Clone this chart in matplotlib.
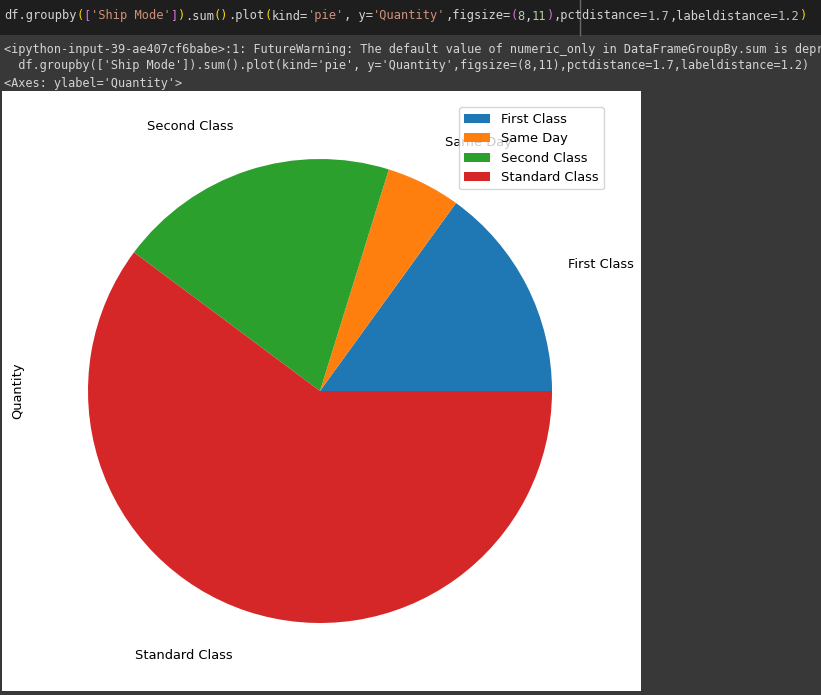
import matplotlib
matplotlib.use("Agg")
import matplotlib.pyplot as plt
from matplotlib.patches import Rectangle

W, H = 821, 695

# data
ship_modes = ['First Class', 'Same Day', 'Second Class', 'Standard Class']
quantity = [5693, 1960, 7423, 22797]
colors = ['#1f77b4', '#ff7f0e', '#2ca02c', '#d62728']

# notebook text
code_parts = [
    ("df.groupby", '#d4d4d4'), ("(", '#ffd700'), ("[", '#da70d6'),
    ("'Ship Mode'", '#ce9178'), ("]", '#da70d6'), (")", '#ffd700'),
    (".sum", '#d4d4d4'), ("()", '#ffd700'), (".plot", '#d4d4d4'),
    ("(", '#ffd700'), ("kind=", '#d4d4d4'), ("'pie'", '#ce9178'),
    (", y=", '#d4d4d4'), ("'Quantity'", '#ce9178'), (",figsize=", '#d4d4d4'),
    ("(", '#da70d6'), ("8", '#b5cea8'), (",", '#d4d4d4'), ("11", '#b5cea8'),
    (")", '#da70d6'), (",pctdistance=", '#d4d4d4'), ("1.7", '#b5cea8'),
    (",labeldistance=", '#d4d4d4'), ("1.2", '#b5cea8'), (")", '#ffd700'),
]
out_lines = [
    "<ipython-input-39-ae407cf6babe>:1: FutureWarning: The default value of numeric_only in DataFrameGroupBy.sum is deprecated.",
    "  df.groupby(['Ship Mode']).sum().plot(kind='pie', y='Quantity',figsize=(8,11),pctdistance=1.7,labeldistance=1.2)",
    "<Axes: ylabel='Quantity'>",
]
out_y = [49, 66, 83]

fig = plt.figure(figsize=(W / 100, H / 100), dpi=100, facecolor='#383838')

def px(x, y):
    return x / W, 1 - y / H

# code cell background + cursor
fig.add_artist(Rectangle((0, 1 - 35 / H), 1, 35 / H, transform=fig.transFigure,
                         facecolor='#1e1e1e', edgecolor='none', zorder=-2))
fig.add_artist(plt.Line2D([580 / W, 580 / W], [1, 1 - 35 / H], transform=fig.transFigure,
                          color='#6a6a6a', lw=1))

mono = 'DejaVu Sans Mono'
fs_code = 8.65
cw = fs_code * 100 / 72 * 0.602
i = 0
for txt, c in code_parts:
    x, y = px(4 + i * cw, 16)
    fig.text(x, y, txt, color=c, family=mono, fontsize=fs_code, va='center', ha='left')
    i += len(txt)

fs_out = 8.55
for line, yy in zip(out_lines, out_y):
    x, y = px(4, yy)
    fig.text(x, y, line, color='#d4d4d4', family=mono, fontsize=fs_out, va='center', ha='left')

# white figure area
fig.add_artist(Rectangle(px(2, 691), 639 / W, 600 / H, transform=fig.transFigure,
                         facecolor='white', edgecolor='none', zorder=-1))

fs = 9.35
ax = fig.add_axes([30 / W, 14 / H, 580 / W, 580 / H])
ax.set_facecolor('none')
wedges, texts = ax.pie(quantity, labels=ship_modes, colors=colors, labeldistance=1.2,
                       textprops={'fontsize': fs})
ax.set_xticks([])
ax.set_yticks([])
for s in ax.spines.values():
    s.set_visible(False)
ax.set_ylabel('Quantity', fontsize=fs)
ax.legend(wedges, ship_modes, loc='upper right', fontsize=fs)

fig.savefig('out.png', dpi=100, facecolor=fig.get_facecolor())
